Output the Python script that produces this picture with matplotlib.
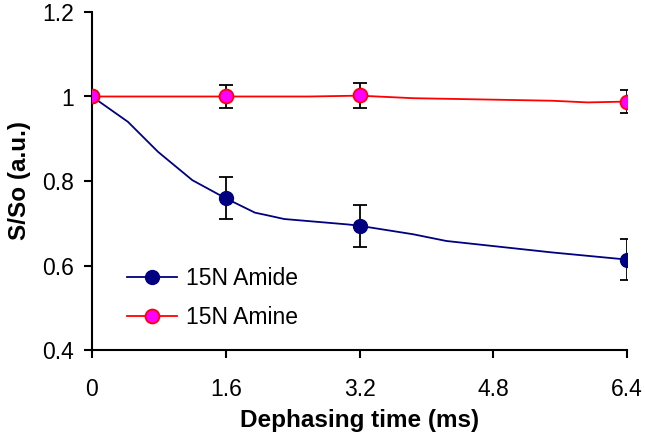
import numpy as np
import matplotlib
matplotlib.use('Agg')
import matplotlib.pyplot as plt

plt.rcParams['font.family'] = ['Liberation Sans', 'DejaVu Sans']

# measured points (with error bars)
t_pts      = [0, 1.6, 3.2, 6.4]
amide_pts  = [1.0, 0.759, 0.694, 0.614]
amide_err  = [0.0, 0.050, 0.050, 0.048]
amine_pts  = [1.0, 1.0, 1.003, 0.988]
amine_err  = [0.0, 0.028, 0.030, 0.028]

# fitted curves
t_amide_fit = [0, 0.43, 0.79, 1.2, 1.6, 1.95, 2.07, 2.3, 3.07, 3.2, 3.84, 4.24, 5.5, 6.4]
amide_fit   = [1.0, 0.940, 0.869, 0.802, 0.759, 0.725, 0.720, 0.710, 0.697, 0.694, 0.674, 0.658, 0.631, 0.614]
t_amine_fit = [0, 1.6, 2.6, 3.2, 3.84, 5.5, 5.93, 6.4]
amine_fit   = [1.0, 1.0, 1.0, 1.002, 0.996, 0.990, 0.986, 0.988]

xticks = [0, 1.6, 3.2, 4.8, 6.4]
xtick_labels = ['0', '1.6', '3.2', '4.8', '6.4']
yticks = [0.4, 0.6, 0.8, 1.0, 1.2]
ytick_labels = ['0.4', '0.6', '0.8', '1', '1.2']

fig = plt.figure(figsize=(6.45, 4.44), dpi=100)
ax = fig.add_axes([92/645, (444-350)/444, (627-92)/645, (350-12)/444])

navy = '#000080'
ax.plot(t_amide_fit, amide_fit, color=navy, lw=1.3, zorder=2)
ax.plot(t_amine_fit, amine_fit, color='red', lw=1.3, zorder=2)

ax.errorbar(t_pts, amide_pts, yerr=amide_err, fmt='none', ecolor='black',
            elinewidth=1.3, capsize=5, capthick=1.3, zorder=3)
ax.errorbar(t_pts, amine_pts, yerr=amine_err, fmt='none', ecolor='black',
            elinewidth=1.3, capsize=5, capthick=1.3, zorder=3)

ax.plot(t_pts, amide_pts, 'o', color=navy, ms=10, mec=navy, zorder=4)
ax.plot(t_pts, amine_pts, 'o', color='magenta', ms=10, mec='red', mew=1.3, zorder=4)

# legend proxies
h1, = ax.plot([], [], '-o', color=navy, lw=1.3, ms=10, mec=navy, label='15N Amide')
h2, = ax.plot([], [], '-o', color='red', mfc='magenta', mec='red', mew=1.3, lw=1.3, ms=10, label='15N Amine')
leg = ax.legend(handles=[h1, h2], loc='center left', bbox_to_anchor=(0.065, 0.154),
                frameon=False, fontsize=16.5, handlelength=2.2, handletextpad=0.4,
                labelspacing=0.72, borderaxespad=0, borderpad=0)

ax.set_xlim(0, 6.4)
ax.set_ylim(0.4, 1.2)
ax.set_xticks(xticks)
ax.set_xticklabels(xtick_labels)
ax.set_yticks(yticks)
ax.set_yticklabels(ytick_labels)
ax.tick_params(labelsize=16.5, width=1.5, length=6, direction='out')
ax.tick_params(axis='x', pad=14)
ax.tick_params(axis='y', pad=7)

for s in ['top', 'right']:
    ax.spines[s].set_visible(False)
for s in ['left', 'bottom']:
    ax.spines[s].set_linewidth(1.5)

ax.set_xlabel('Dephasing time (ms)', fontsize=17.5, fontweight='bold', labelpad=6)
ax.set_ylabel('S/So (a.u.)', fontsize=17.5, fontweight='bold', labelpad=8)

fig.savefig('out.png', dpi=100)
